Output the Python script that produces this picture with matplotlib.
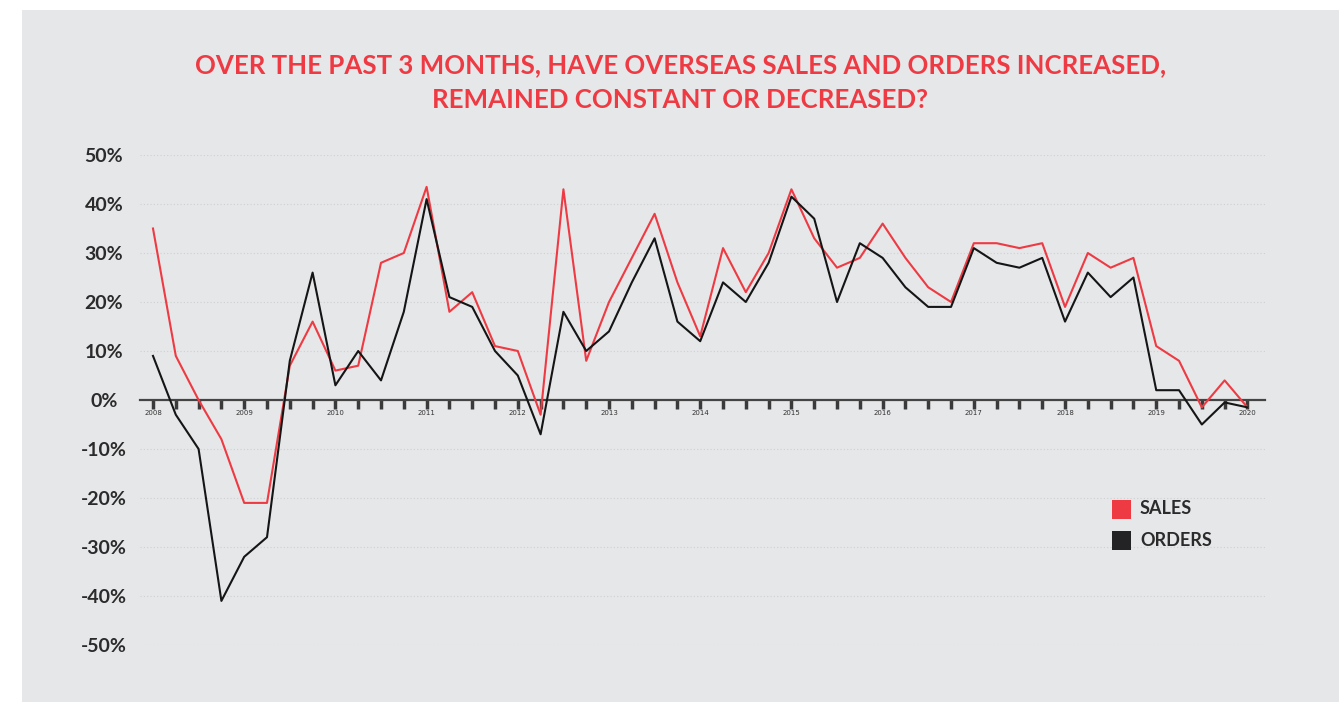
import matplotlib.pyplot as plt
from matplotlib.patches import Rectangle

# quarterly values, 2008 Q1 .. 2020 Q1
years = [str(y) for y in range(2008, 2021)]
sales = [35, 9, 0, -8, -21, -21, 7, 16, 6, 7, 28, 30, 43.5, 18, 22, 11, 10, -3,
         43, 8, 20, 29, 38, 24, 13, 31, 22, 30, 43, 33, 27, 29, 36, 29, 23, 20,
         32, 32, 31, 32, 19, 30, 27, 29, 11, 8, -1.5, 4, -1.5]
orders = [9, -3, -10, -41, -32, -28, 8, 26, 3, 10, 4, 18, 41, 21, 19, 10, 5, -7,
          18, 10, 14, 24, 33, 16, 12, 24, 20, 28, 41.5, 37, 20, 32, 29, 23, 19, 19,
          31, 28, 27, 29, 16, 26, 21, 25, 2, 2, -5, -0.5, -1.5]
yticks = [50, 40, 30, 20, 10, 0, -10, -20, -30, -40, -50]

RED = '#ee3a43'
BLACK = '#151515'
BG = '#e6e7e9'

W, H = 1339, 702
fig = plt.figure(figsize=(W / 100, H / 100), dpi=100)
fig.patch.set_facecolor('white')
fig.patches.append(Rectangle((22 / W, 0), 1 - 22 / W, 1 - 10 / H,
                             transform=fig.transFigure, facecolor=BG,
                             edgecolor='none', zorder=-1))

ax = fig.add_axes([140 / W, 1 - 645 / H, (1265 - 140) / W, (645 - 155) / H])
ax.set_facecolor('none')

x = list(range(len(sales)))
ax.plot(x, sales, color=RED, lw=1.5, zorder=3)
ax.plot(x, orders, color=BLACK, lw=1.5, zorder=4)

ax.set_xlim(-0.57, 48.77)
ax.set_ylim(-50, 50)

for s in ['top', 'right', 'left']:
    ax.spines[s].set_visible(False)
ax.spines['bottom'].set_position(('data', 0))
ax.spines['bottom'].set_color('#444444')
ax.spines['bottom'].set_linewidth(1.6)

ax.set_xticks(x)
ax.set_xticklabels([years[i // 4] if i % 4 == 0 else '' for i in x],
                   fontsize=5, color='#333333', family='DejaVu Sans')
ax.tick_params(axis='x', direction='out', length=6.5, width=2.5,
               color='#3a3a3a', pad=1)

ax.set_yticks(yticks)
ax.set_yticklabels([f'{v}%' for v in yticks], fontsize=14, fontweight='bold',
                   color='#2b2b2b', family='Lato', ha='center')
ax.tick_params(axis='y', length=0, pad=26)
ax.grid(axis='y', color='#cfd0d2', lw=0.8, ls=(0, (1, 2)))
ax.set_axisbelow(True)

fig.text(0.508, 1 - 65 / H, 'OVER THE PAST 3 MONTHS, HAVE OVERSEAS SALES AND ORDERS INCREASED,',
         ha='center', va='center', color=RED, fontsize=18.6, fontweight='bold',
         family='Lato')
fig.text(0.508, 1 - 100 / H, 'REMAINED CONSTANT OR DECREASED?',
         ha='center', va='center', color=RED, fontsize=18.6, fontweight='bold',
         family='Lato')

# legend
for label, col, yy in [('SALES', RED, 509), ('ORDERS', '#232325', 540)]:
    fig.patches.append(Rectangle((1112 / W, 1 - (yy + 9.5) / H), 19 / W, 19 / H,
                                 transform=fig.transFigure, facecolor=col,
                                 edgecolor='none'))
    fig.text(1140 / W, 1 - yy / H, label, ha='left', va='center', fontsize=13,
             fontweight='bold', color='#2b2b2b', family='Lato')

fig.savefig('out.png', dpi=100)
